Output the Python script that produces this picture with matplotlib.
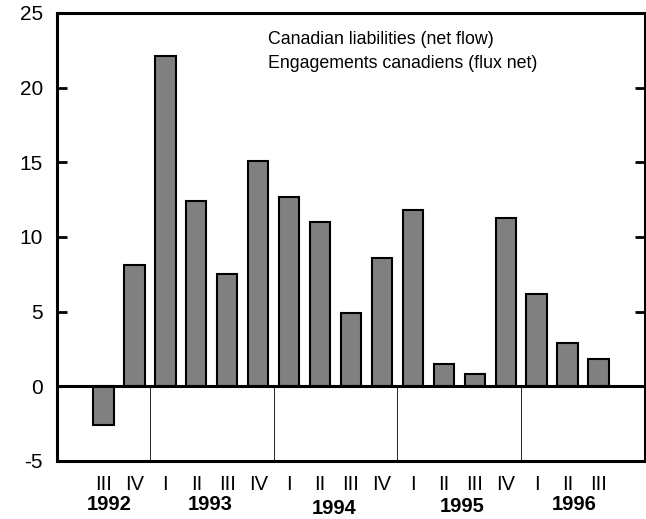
import matplotlib
matplotlib.use("Agg")
import matplotlib.pyplot as plt
import matplotlib.transforms as mtrans

plt.rcParams['font.family'] = ['Liberation Sans', 'DejaVu Sans']

quarters = ["III", "IV", "I", "II", "III", "IV", "I", "II", "III", "IV",
            "I", "II", "III", "IV", "I", "II", "III"]
values = [-2.6, 8.1, 22.1, 12.4, 7.5, 15.1, 12.7, 11.0, 4.9, 8.6,
          11.8, 1.5, 0.8, 11.3, 6.2, 2.9, 1.8]
years = ["1992", "1993", "1994", "1995", "1996"]
year_pos = [0.18, 3.44, 7.47, 11.58, 15.21]
year_dy = [0, 0, 3, 2, 0]
dividers = [1.5, 5.5, 9.5, 13.5]
line1 = "Canadian liabilities (net flow)"
line2 = "Engagements canadiens (flux net)"

fig = plt.figure(figsize=(6.46, 5.19), dpi=100)
ax = fig.add_axes([57/646, 58/519, 588/646, 448/519])

x = list(range(len(values)))
ax.bar(x, values, width=0.66, color="#808080", edgecolor="black", linewidth=1.5, zorder=3)

ax.set_xlim(-1.5, 17.5)
ax.set_ylim(-5, 25)
ax.axhline(0, color="black", linewidth=2.2, zorder=4)
for d in dividers:
    ax.plot([d, d], [-5, 0], color="black", linewidth=0.6, zorder=2)

for s in ax.spines.values():
    s.set_linewidth(2.2)

ax.set_yticks([-5, 0, 5, 10, 15, 20, 25])
ax.set_yticklabels(["-5", "0", "5", "10", "15", "20", "25"])
ax.tick_params(axis='y', direction='in', length=7, width=2, labelsize=15, pad=10,
               right=True)
ax.set_xticks(x)
ax.set_xticklabels(quarters)
ax.tick_params(axis='x', length=0, labelsize=14.5, pad=10)

for yl, xp, dy in zip(years, year_pos, year_dy):
    tr = mtrans.blended_transform_factory(ax.transData, ax.transAxes) + \
        mtrans.ScaledTranslation(0, -dy/100, fig.dpi_scale_trans)
    ax.text(xp, -44/448, yl, transform=tr, ha="center", va="center",
            fontsize=14.5, fontweight="bold")

ax.text(211/588, 1 - 27/448, line1, transform=ax.transAxes, ha="left", va="center", fontsize=12.8)
ax.text(211/588, 1 - 50/448, line2, transform=ax.transAxes, ha="left", va="center", fontsize=12.8)

fig.savefig("out.png", dpi=100)
